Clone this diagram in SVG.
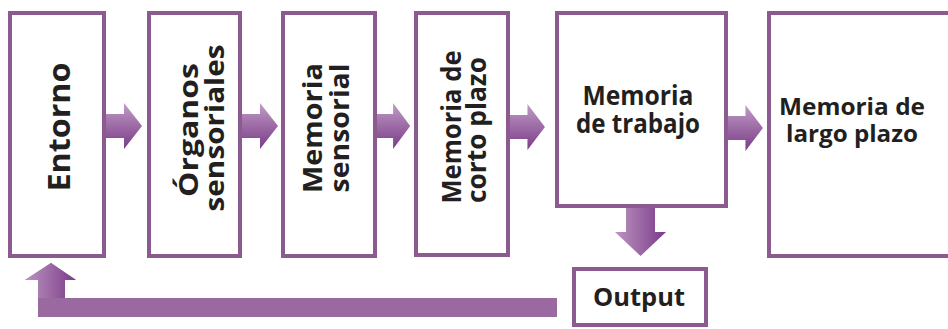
<svg xmlns="http://www.w3.org/2000/svg" width="948" height="329" viewBox="0 0 948 329">
<style>
.box{fill:#ffffff;stroke:#8b5b8f;stroke-width:4}
.t{font-family:"Open Sans","Liberation Sans",sans-serif;font-weight:700;fill:#231f20;text-anchor:middle}
</style>
<defs>
<linearGradient id="gh" x1="0" y1="0" x2="0" y2="1">
<stop offset="0" stop-color="#c09cc5"/>
<stop offset="0.45" stop-color="#a070a9"/>
<stop offset="1" stop-color="#7a3b88"/>
</linearGradient>
<linearGradient id="gv" x1="0" y1="0" x2="1" y2="0">
<stop offset="0" stop-color="#bb95c0"/>
<stop offset="0.5" stop-color="#9c68a5"/>
<stop offset="1" stop-color="#7a3b88"/>
</linearGradient>
<path id="ar" d="M0,-12 H18 V-23 L36,0 L18,23 V12 H0 Z"/>
</defs>
<rect width="948" height="329" fill="#ffffff"/>
<g id="connectors">
<use href="#ar" fill="url(#gh)" transform="translate(106,126)"/>
<use href="#ar" fill="url(#gh)" transform="translate(242,126)"/>
<use href="#ar" fill="url(#gh)" transform="translate(376,126) scale(0.95,1)"/>
<use href="#ar" fill="url(#gh)" transform="translate(510,127) scale(0.97,1)"/>
<use href="#ar" fill="url(#gh)" transform="translate(728,128) scale(0.97,1)"/>
<path d="M626,208 H655 V232 H666 L640.5,256 L615,232 H626 Z" fill="url(#gv)"/>
<path d="M557,298 V317 H38 V280 H25 L51,263 L76,280 H65 V298 Z" fill="#9a699f"/>
<path d="M38,280 H25 L51,263 L76,280 H65 V298 H38 Z" fill="url(#gv)"/>
</g>
<g id="entorno">
<rect class="box" x="10" y="13" width="94" height="243"/>
<text class="t" font-size="31" textLength="129" lengthAdjust="spacingAndGlyphs" transform="translate(70,127) rotate(-90)">Entorno</text>
</g>
<g id="organos">
<rect class="box" x="149" y="13" width="91" height="243"/>
<text class="t" font-size="27" transform="translate(198,129) rotate(-90)"><tspan x="-1" y="0" textLength="134" lengthAdjust="spacingAndGlyphs">Órganos</tspan><tspan x="1" y="26" textLength="167" lengthAdjust="spacingAndGlyphs">sensoriales</tspan></text>
</g>
<g id="memoria-sensorial">
<rect class="box" x="283" y="13" width="92" height="243"/>
<text class="t" font-size="27" transform="translate(322,128) rotate(-90)"><tspan x="0" y="0" textLength="130" lengthAdjust="spacingAndGlyphs">Memoria</tspan><tspan x="0" y="27" textLength="129" lengthAdjust="spacingAndGlyphs">sensorial</tspan></text>
</g>
<g id="memoria-corto">
<rect class="box" x="416" y="13" width="92" height="242"/>
<text class="t" font-size="26" transform="translate(461,128) rotate(-90)"><tspan x="1" y="0" textLength="153" lengthAdjust="spacingAndGlyphs">Memoria de</tspan><tspan x="-2" y="25" textLength="146" lengthAdjust="spacingAndGlyphs">corto plazo</tspan></text>
</g>
<g id="memoria-trabajo">
<rect class="box" x="557" y="13" width="169" height="193"/>
<text class="t" font-size="26"><tspan x="638" y="105" textLength="111" lengthAdjust="spacingAndGlyphs">Memoria</tspan><tspan x="638" y="133" textLength="124" lengthAdjust="spacingAndGlyphs">de trabajo</tspan></text>
</g>
<g id="memoria-largo">
<rect class="box" x="769" y="13" width="200" height="243"/>
<text class="t" font-size="24"><tspan x="852" y="115" textLength="146" lengthAdjust="spacingAndGlyphs">Memoria de</tspan><tspan x="852" y="142" textLength="132" lengthAdjust="spacingAndGlyphs">largo plazo</tspan></text>
</g>
<g id="output">
<rect class="box" x="574" y="269" width="132" height="56"/>
<text class="t" font-size="25" x="639" y="306" textLength="92" lengthAdjust="spacingAndGlyphs">Output</text>
</g>
</svg>
